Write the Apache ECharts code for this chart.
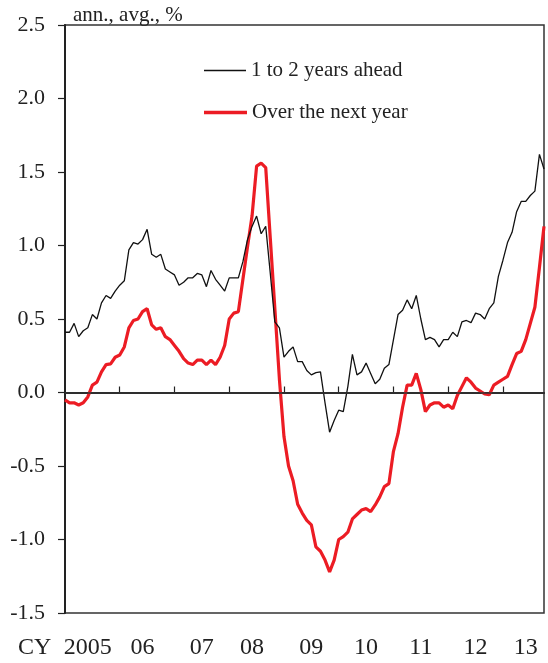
<!DOCTYPE html>
<html>
<head>
<meta charset="utf-8">
<script src="https://cdn.jsdelivr.net/npm/echarts@6/dist/echarts.min.js"></script>
<style>
  html, body { margin: 0; padding: 0; background: #fff; }
  #chart { width: 548px; height: 663px; }
</style>
</head>
<body>
<div id="chart"></div>
<script>
// monthly, Jan 2005 .. Oct 2013
const months = [];
for (let y = 2005; y <= 2013; y++) {
  for (let m = 1; m <= 12; m++) {
    if (y === 2013 && m > 10) break;
    months.push(y + '-' + String(m).padStart(2, '0'));
  }
}

const yearLabels = ['2005', '06', '07', '08', '09', '10', '11', '12', '13'];
const yearLabelIdx = [5, 17, 30, 41, 54, 66, 78, 90, 101];

const oneToTwoYears = [
  0.41, 0.41, 0.47, 0.38, 0.42, 0.44, 0.53, 0.50, 0.61, 0.66,
  0.64, 0.69, 0.73, 0.76, 0.97, 1.02, 1.01, 1.04, 1.11, 0.94,
  0.92, 0.94, 0.84, 0.82, 0.80, 0.73, 0.75, 0.78, 0.78, 0.81,
  0.80, 0.72, 0.83, 0.77, 0.73, 0.69, 0.78, 0.78, 0.78, 0.89,
  1.04, 1.13, 1.20, 1.08, 1.13, 0.81, 0.48, 0.44, 0.24, 0.28,
  0.31, 0.21, 0.21, 0.15, 0.12, 0.135, 0.14, -0.07, -0.27, -0.19,
  -0.12, -0.13, 0.04, 0.26, 0.12, 0.14, 0.20, 0.13, 0.06, 0.09,
  0.165, 0.19, 0.36, 0.53, 0.56, 0.63, 0.57, 0.66, 0.50, 0.36,
  0.375, 0.36, 0.31, 0.36, 0.36, 0.41, 0.38, 0.48, 0.49, 0.475,
  0.54, 0.53, 0.50, 0.57, 0.61, 0.79, 0.90, 1.02, 1.09, 1.23,
  1.30, 1.30, 1.34, 1.37, 1.62, 1.52
];

const nextYear = [
  -0.05, -0.07, -0.07, -0.085, -0.07, -0.03, 0.05, 0.07, 0.14, 0.19,
  0.195, 0.24, 0.255, 0.31, 0.44, 0.49, 0.50, 0.55, 0.57, 0.46,
  0.43, 0.44, 0.38, 0.36, 0.32, 0.28, 0.23, 0.20, 0.19, 0.22,
  0.22, 0.19, 0.22, 0.19, 0.24, 0.32, 0.50, 0.54, 0.55, 0.77,
  0.99, 1.20, 1.54, 1.56, 1.53, 1.05, 0.57, 0.09, -0.30, -0.50,
  -0.60, -0.76, -0.82, -0.87, -0.90, -1.05, -1.08, -1.14, -1.22, -1.14,
  -1.00, -0.98, -0.95, -0.86, -0.83, -0.80, -0.79, -0.81, -0.765, -0.71,
  -0.64, -0.62, -0.40, -0.28, -0.10, 0.05, 0.05, 0.13, 0.02, -0.13,
  -0.085, -0.07, -0.07, -0.10, -0.085, -0.11, -0.02, 0.04, 0.10, 0.07,
  0.03, 0.01, -0.01, -0.015, 0.05, 0.07, 0.09, 0.11, 0.19, 0.265,
  0.28, 0.36, 0.47, 0.58, 0.85, 1.13
];

const serif = '"Liberation Serif", "DejaVu Serif", serif';

const chart = echarts.init(document.getElementById('chart'));

chart.setOption({
  animation: false,
  title: {
    text: 'ann., avg., %',
    left: 68,
    top: 0,
    textStyle: { fontFamily: serif, fontSize: 21, fontWeight: 'normal', color: '#222' }
  },
  legend: [
    {
      data: ['1 to 2 years ahead'],
      left: 199,
      top: 55,
      icon: 'rect',
      itemWidth: 42,
      itemHeight: 1.5,
      textStyle: { fontFamily: serif, fontSize: 21, color: '#222' }
    },
    {
      data: ['Over the next year'],
      left: 199,
      top: 97,
      icon: 'rect',
      itemWidth: 43,
      itemHeight: 3.5,
      textStyle: { fontFamily: serif, fontSize: 21, color: '#222' }
    }
  ],
  grid: {
    left: 65,
    right: 4,
    top: 25,
    bottom: 50,
    show: true,
    borderColor: '#333',
    borderWidth: 1.5
  },
  graphic: [
    {
      type: 'text',
      left: 18,
      top: 636,
      style: { text: 'CY', font: '24px ' + serif, fill: '#222' }
    }
  ],
  xAxis: {
    type: 'category',
    data: months,
    boundaryGap: false,
    axisLine: { lineStyle: { color: '#222', width: 2 } },
    axisTick: {
      inside: true,
      length: 6,
      interval: (idx) => idx % 12 === 0 && idx > 0,
      lineStyle: { color: '#222', width: 1.2 }
    },
    axisLabel: {
      interval: (idx) => yearLabelIdx.indexOf(idx) >= 0,
      formatter: (val, idx) => yearLabels[yearLabelIdx.indexOf(idx)],
      fontFamily: serif,
      fontSize: 24,
      color: '#222',
      margin: 23
    },
    splitLine: { show: false }
  },
  yAxis: {
    type: 'value',
    min: -1.5,
    max: 2.5,
    interval: 0.5,
    axisLine: { show: true, lineStyle: { color: '#222', width: 2 } },
    axisTick: { show: true, length: 7, lineStyle: { color: '#222', width: 1.2 } },
    axisLabel: {
      formatter: (v) => v.toFixed(1),
      fontFamily: serif,
      fontSize: 22,
      color: '#222',
      margin: 20
    },
    splitLine: { show: false }
  },
  series: [
    {
      name: '1 to 2 years ahead',
      type: 'line',
      data: oneToTwoYears,
      showSymbol: false,
      symbol: 'none',
      color: '#111',
      lineStyle: { color: '#111', width: 1.3 },
      markLine: {
        silent: true,
        symbol: 'none',
        label: { show: false },
        lineStyle: { color: '#333', width: 1.5, type: 'solid' },
        data: [{ yAxis: 0 }]
      },
      z: 3
    },
    {
      name: 'Over the next year',
      type: 'line',
      data: nextYear,
      showSymbol: false,
      symbol: 'none',
      color: '#ec1c24',
      lineStyle: { color: '#ec1c24', width: 3.2 },
      z: 2
    }
  ]
});
</script>
</body>
</html>
